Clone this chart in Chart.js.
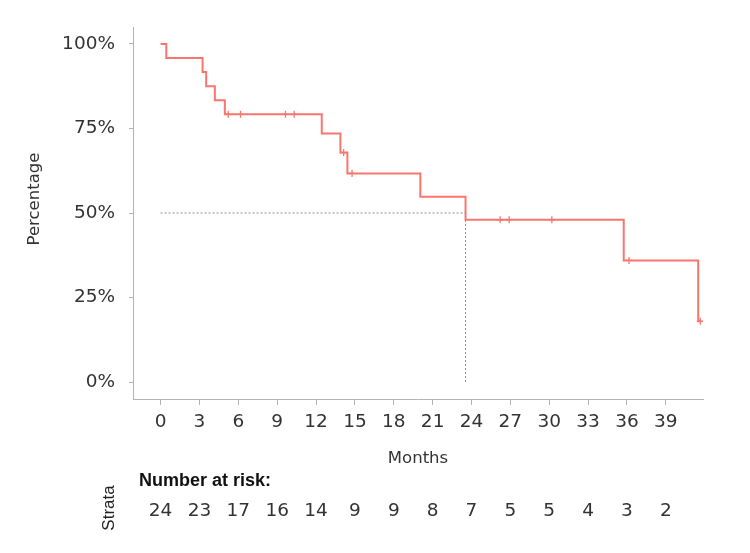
<!DOCTYPE html>
<html>
<head>
<meta charset="utf-8">
<script src="https://cdn.jsdelivr.net/npm/chart.js@4.4.0/dist/chart.umd.min.js"></script>
<style>
  body { margin: 0; background: #fff; }
  #wrap { width: 750px; height: 553px; position: relative; }
</style>
</head>
<body>
<div id="wrap"><canvas id="km-chart"></canvas></div>
<script>
// Kaplan-Meier steps (months, percent)
let stepMonths = [0, 0.44, 3.24, 3.52, 4.19, 4.96, 12.44, 13.88, 14.42, 20.05, 23.54, 35.75, 41.5, 41.66]
let stepPercent = [100, 95.83, 91.67, 87.5, 83.33, 79.17, 73.51, 67.86, 61.69, 54.84, 47.98, 35.99, 17.99, 17.99]

// Censored patients (the small + marks)
let censorMonths = [5.22, 6.17, 9.64, 10.31, 14.13, 14.78, 26.21, 26.91, 30.2, 36.16, 41.66]
let censorPercent = [79.17, 79.17, 79.17, 79.17, 67.86, 61.69, 47.98, 47.98, 47.98, 35.99, 17.99]

// Median survival guide line
let medianMonths = 23.54
let medianPercent = 50

// Axis ticks
let monthTicks = [0, 3, 6, 9, 12, 15, 18, 21, 24, 27, 30, 33, 36, 39]
let percentTicks = [0, 25, 50, 75, 100]

// Number at risk under each month tick
let atRisk = [24, 23, 17, 16, 14, 9, 9, 8, 7, 5, 5, 4, 3, 2]

let curveColor = '#f8766d'
let axisColor = '#b4b4b4'
let textColor = '#333333'

Chart.defaults.font.family = '"DejaVu Sans", Verdana, sans-serif'
Chart.defaults.color = textColor

// Draws the y title and the risk table under the x axis
let riskTable = {
    id: 'riskTable',
    afterDraw(chart) {
        let ctx = chart.ctx
        let xScale = chart.scales.x
        ctx.save()
        ctx.textBaseline = 'middle'

        // y axis title sits a bit above the panel centre in the original
        ctx.save()
        ctx.fillStyle = textColor
        ctx.textAlign = 'center'
        ctx.font = '16.5px "DejaVu Sans", Verdana, sans-serif'
        ctx.translate(35, 199)
        ctx.rotate(-Math.PI / 2)
        ctx.fillText('Percentage', 0, 0)
        ctx.restore()

        ctx.fillStyle = '#111'
        ctx.textAlign = 'left'
        ctx.font = 'bold 18px "Liberation Sans", Arial, sans-serif'
        ctx.fillText('Number at risk:', 139, 481)

        ctx.fillStyle = textColor
        ctx.textAlign = 'center'
        ctx.font = '18.5px "DejaVu Sans", Verdana, sans-serif'
        monthTicks.forEach(function(month, i) {
            ctx.fillText(String(atRisk[i]), xScale.getPixelForValue(month), 511)
        })

        ctx.fillStyle = '#222'
        ctx.font = '17px "Liberation Sans", Arial, sans-serif'
        ctx.translate(109, 508)
        ctx.rotate(-Math.PI / 2)
        ctx.fillText('Strata', 0, 0)
        ctx.restore()
    }
}

let context = document.querySelector('#km-chart').getContext('2d')

let kmChart = new Chart(context, {
    type: 'line',
    data: {
        datasets: [
            {
                label: 'Survival',
                data: stepMonths.map((m, i) => ({ x: m, y: stepPercent[i] })),
                borderColor: curveColor,
                borderWidth: 2,
                stepped: true,
                pointRadius: 0,
                fill: false
            },
            {
                label: 'Censored',
                data: censorMonths.map((m, i) => ({ x: m, y: censorPercent[i] })),
                showLine: false,
                pointStyle: 'cross',
                pointRadius: 3.5,
                borderColor: curveColor,
                backgroundColor: curveColor,
                pointBorderWidth: 1.3
            },
            {
                label: 'Median',
                data: [
                    { x: 0, y: medianPercent },
                    { x: medianMonths, y: medianPercent },
                    { x: medianMonths, y: 0 }
                ],
                borderColor: '#8c8c8c',
                borderWidth: 1,
                borderDash: [2, 2],
                pointRadius: 0,
                fill: false
            }
        ]
    },
    options: {
        responsive: true,
        maintainAspectRatio: false,
        animation: false,
        layout: { padding: { left: 0, top: 27, right: 47, bottom: 84 } },
        plugins: {
            legend: { display: false },
            tooltip: { enabled: false }
        },
        scales: {
            x: {
                type: 'linear',
                min: -2.13,
                max: 41.87,
                afterBuildTicks: function(scale) {
                    scale.ticks = monthTicks.map(v => ({ value: v }))
                },
                afterFit: function(scale) { scale.height = 70 },
                grid: { drawOnChartArea: false, tickLength: 6, color: axisColor, tickColor: axisColor },
                border: { color: axisColor, width: 1 },
                ticks: { padding: 6, font: { size: 18.5 }, color: textColor, maxRotation: 0, autoSkip: false },
                title: { display: true, text: 'Months', font: { size: 16.5 }, color: textColor, padding: { top: 0, bottom: 0 } }
            },
            y: {
                type: 'linear',
                min: -5,
                max: 105,
                afterBuildTicks: function(scale) {
                    scale.ticks = percentTicks.map(v => ({ value: v }))
                },
                afterFit: function(scale) { scale.width = 133 },
                grid: { drawOnChartArea: false, tickLength: 4, color: axisColor, tickColor: axisColor },
                border: { color: axisColor, width: 1 },
                ticks: {
                    padding: 14,
                    font: { size: 18.5 },
                    color: textColor,
                    callback: function(value) { return value + '%' }
                }
            }
        }
    },
    plugins: [riskTable]
})
</script>
</body>
</html>
